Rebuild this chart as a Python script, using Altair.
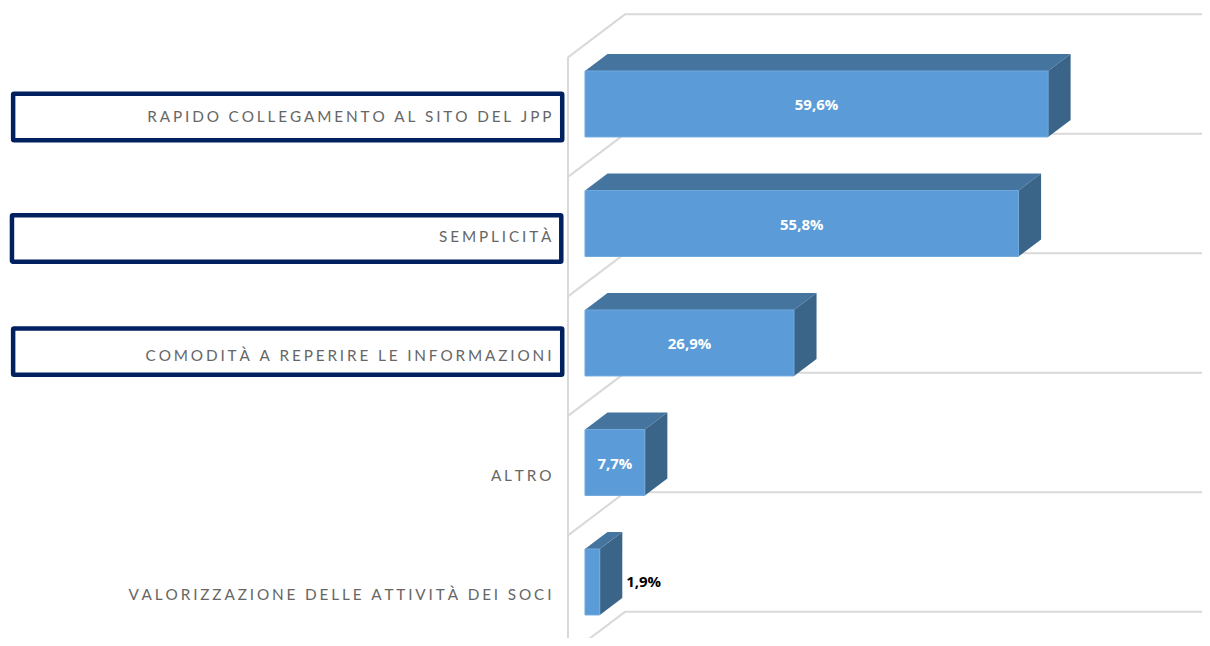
import altair as alt
import pandas as pd

categories = ["RAPIDO COLLEGAMENTO AL SITO DEL JPP", "SEMPLICITÀ", "COMODITÀ A REPERIRE LE INFORMAZIONI", "ALTRO", "VALORIZZAZIONE DELLE ATTIVITÀ DEI SOCI"]
values = [59.6, 55.8, 26.9, 7.7, 1.9]
value_labels = ["59,6%", "55,8%", "26,9%", "7,7%", "1,9%"]
value_colors = ["#FFFFFF", "#FFFFFF", "#FFFFFF", "#FFFFFF", "#000000"]
boxed_rows = [0, 1, 2]
box_offsets = [0.109, 0.126, 0.072]
box_left = [-73.6, -73.75, -73.6]
box_right = [-2.93, -3.05, -2.93]

X_DOMAIN = [-74.26, 79.41]
Y_DOMAIN = [-0.803, 4.469]
DX, DY = 2.9, 0.142   # depth of the 3-D effect, in scale units
HALF = 0.276
WALL_X, BACK_X = -2.19, 5.15
SP = "\u2009\u200a"

xs = alt.Scale(domain=X_DOMAIN, nice=False, zero=False)
ys = alt.Scale(domain=Y_DOMAIN, reverse=True, nice=False, zero=False)
X = alt.X("x:Q", scale=xs, axis=None)
Y = alt.Y("y:Q", scale=ys, axis=None)
Y2 = alt.Y2("y2:Q")
X2 = alt.X2("x2:Q")

# walls and shelves
grid = []
for r in range(-1, 5):
    grid += [dict(x=WALL_X, y=r + 0.61, seg=f"d{r}"), dict(x=BACK_X, y=r + 0.25, seg=f"d{r}"),
             dict(x=X_DOMAIN[1], y=r + 0.25, seg=f"d{r}")]
grid += [dict(x=WALL_X, y=-0.39, seg="wall"), dict(x=WALL_X, y=Y_DOMAIN[1], seg="wall")]
grid_layer = alt.Chart(pd.DataFrame(grid)).mark_line(color="#D9D9D9", strokeWidth=2, clip=True).encode(X, Y, detail="seg:N")

# 3-D faces
top, side, front = [], [], []
for r, v in enumerate(values):
    t, b = r - HALF, r + HALF
    for x in sorted({0.0, min(v, DX), max(v, DX), v + DX}):
        top.append(dict(bar=r, x=x, y=t - DY * min(x / DX, 1), y2=t - DY * max((x - v) / DX, 0)))
    side += [dict(bar=r, x=v, y=t, y2=b), dict(bar=r, x=v + DX, y=t - DY, y2=b - DY)]
    front.append(dict(x=0.0, x2=v, y=t, y2=b))

top_layer = alt.Chart(pd.DataFrame(top)).mark_area(fill="#45749F", orient="vertical").encode(X, Y, Y2, detail="bar:N")
side_layer = alt.Chart(pd.DataFrame(side)).mark_area(fill="#3A6589", orient="vertical").encode(X, Y, Y2, detail="bar:N")
front_layer = alt.Chart(pd.DataFrame(front)).mark_rect(color="#5B9BD7", stroke="#70A8DE", strokeWidth=1).encode(X, X2, Y, Y2)

# value labels
vals = []
for r, (v, s, c) in enumerate(zip(values, value_labels, value_colors)):
    inside = c == "#FFFFFF"
    vals.append(dict(x=v / 2 if inside else v + DX + 0.5, y=r + (0.01 if inside else 0.0), t=s, c=c, a="center" if inside else "left"))
vdf = pd.DataFrame(vals)
val_in = alt.Chart(vdf[vdf.a == "center"]).mark_text(font="Open Sans", fontSize=15, fontWeight="bold", align="center", baseline="middle", color="#FFFFFF").encode(X, Y, text="t:N")
val_out = alt.Chart(vdf[vdf.a == "left"]).mark_text(font="Open Sans", fontSize=15, fontWeight="bold", align="left", baseline="middle", color="#000000").encode(X, Y, text="t:N")

# category boxes and labels
boxes = pd.DataFrame([dict(x=l, x2=rt, y=r + o - 0.194, y2=r + o + 0.194) for r, o, l, rt in zip(boxed_rows, box_offsets, box_left, box_right)])
box_layer = alt.Chart(boxes).mark_rect(fill="#FFFFFF", stroke="#002060", strokeWidth=4.5, cornerRadius=1).encode(X, X2, Y, Y2)
labels = pd.DataFrame([dict(x=-4.32, y=r + 0.113, t=SP.join(c)) for r, c in enumerate(categories)])
label_layer = alt.Chart(labels).mark_text(font="Lato", fontSize=15.3, align="right", baseline="middle", color="#666666").encode(X, Y, text="t:N")

chart = alt.layer(grid_layer, top_layer, side_layer, front_layer, val_in, val_out, box_layer, label_layer).properties(
    width=1194, height=630, padding=0, autosize=alt.AutoSizeParams(type="none"), background="#FFFFFF"
).configure_view(stroke=None)

chart.save("out.html", embed_options={"renderer": "svg", "actions": False})
